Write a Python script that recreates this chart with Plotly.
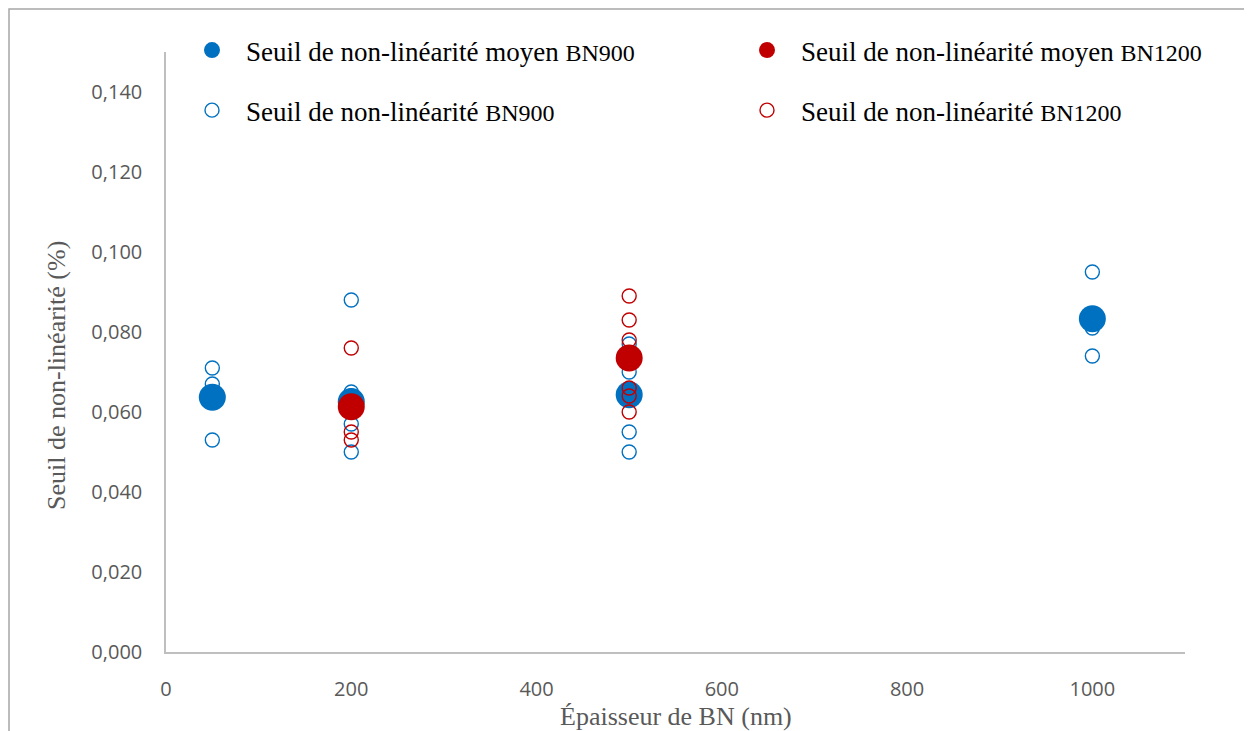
import plotly.graph_objects as go

# ---- data ----
bn900_x = [50, 50, 50,
           200, 200, 200, 200, 200,
           500, 500, 500, 500, 500,
           1000, 1000, 1000]
bn900_y = [0.071, 0.067, 0.053,
           0.088, 0.065, 0.064, 0.057, 0.050,
           0.077, 0.070, 0.065, 0.055, 0.050,
           0.095, 0.081, 0.074]

bn1200_x = [200, 200, 200,
            500, 500, 500, 500, 500, 500]
bn1200_y = [0.076, 0.055, 0.053,
            0.089, 0.083, 0.078, 0.066, 0.064, 0.060]

mean900_x = [50, 200, 500, 1000]
mean900_y = [0.0637, 0.0626, 0.0643, 0.0833]

mean1200_x = [200, 500]
mean1200_y = [0.0613, 0.0735]

x_ticks = [0, 200, 400, 600, 800, 1000]
y_ticks = [0.0, 0.02, 0.04, 0.06, 0.08, 0.10, 0.12, 0.14]

BLUE = "#0070C0"
RED = "#C00000"
SERIF = "Liberation Serif, Times New Roman, serif"
TICKFONT = dict(family="Open Sans, sans-serif", size=20, color="#595959")

# page offset of the figure inside the browser (default body margin)
OFF = 8
W, H = 1252 - OFF, 731 - OFF
L, T, R, B = 166 - OFF, 52 - OFF, 67, 79
PW, PH = W - L - R, H - T - B


def px(xp):  # page x -> paper
    return (xp - OFF - L) / PW


def py(yp):  # page y -> paper
    return (H - B - (yp - OFF)) / PH


fig = go.Figure()

fig.add_trace(go.Scatter(
    x=bn900_x, y=bn900_y, mode="markers",
    name="Seuil de non-linéarité <span style='font-size:24px'>BN900</span>",
    legend="legend", legendgroup="b", legendrank=2,
    marker=dict(symbol="circle-open", size=14, color=BLUE, line=dict(width=1.4, color=BLUE)),
))
fig.add_trace(go.Scatter(
    x=mean900_x, y=mean900_y, mode="markers",
    name="Seuil de non-linéarité moyen <span style='font-size:24px'>BN900</span>",
    legend="legend", legendgroup="a", legendrank=1,
    marker=dict(symbol="circle", size=27, color=BLUE, line=dict(width=0)),
))
fig.add_trace(go.Scatter(
    x=bn1200_x, y=bn1200_y, mode="markers",
    name="Seuil de non-linéarité <span style='font-size:24px'>BN1200</span>",
    legend="legend2", legendgroup="d", legendrank=2,
    marker=dict(symbol="circle-open", size=14, color=RED, line=dict(width=1.4, color=RED)),
))
fig.add_trace(go.Scatter(
    x=mean1200_x, y=mean1200_y, mode="markers",
    name="Seuil de non-linéarité moyen <span style='font-size:24px'>BN1200</span>",
    legend="legend2", legendgroup="c", legendrank=1,
    marker=dict(symbol="circle", size=27, color=RED, line=dict(width=0)),
))

legend_common = dict(
    orientation="v", xanchor="left", yanchor="top",
    font=dict(family=SERIF, size=27, color="#000000"),
    bgcolor="rgba(0,0,0,0)", itemwidth=58, tracegroupgap=22,
    traceorder="grouped",
)

fig.update_layout(
    width=W, height=H,
    margin=dict(l=L, r=R, t=T, b=B),
    paper_bgcolor="white", plot_bgcolor="white",
    separators=", ",
    showlegend=True,
    legend=dict(x=px(178), y=py(26), **legend_common),
    legend2=dict(x=px(733), y=py(26), **legend_common),
    xaxis=dict(
        range=[0, 1100], tickvals=x_ticks, ticktext=[str(v) for v in x_ticks],
        showgrid=False, zeroline=False, showline=True, linecolor="#BFBFBF", linewidth=1.5,
        ticks="", tickfont=TICKFONT, ticklabelstandoff=18,
    ),
    yaxis=dict(
        range=[0, 0.15], tickvals=y_ticks, tickformat=".3f",
        showgrid=False, zeroline=False, showline=True, linecolor="#BFBFBF", linewidth=1.5,
        ticks="", tickfont=TICKFONT, ticklabelstandoff=18,
    ),
    annotations=[
        dict(text="Seuil de non-linéarité (%)", xref="paper", yref="paper",
             x=px(56), y=py(376), textangle=-90,
             showarrow=False, xanchor="center", yanchor="middle",
             font=dict(family=SERIF, size=26, color="#595959")),
        dict(text="Épaisseur de BN (nm)", xref="paper", yref="paper",
             x=px(676), y=py(716),
             showarrow=False, xanchor="center", yanchor="middle",
             font=dict(family=SERIF, size=26, color="#595959")),
    ],
    shapes=[
        dict(type="rect", xref="paper", yref="paper",
             x0=px(9), x1=px(1300),
             y0=py(800), y1=py(9),
             line=dict(color="#A6A6A6", width=1.5), fillcolor="rgba(0,0,0,0)", layer="below"),
    ],
)

fig.write_html("out.html")
